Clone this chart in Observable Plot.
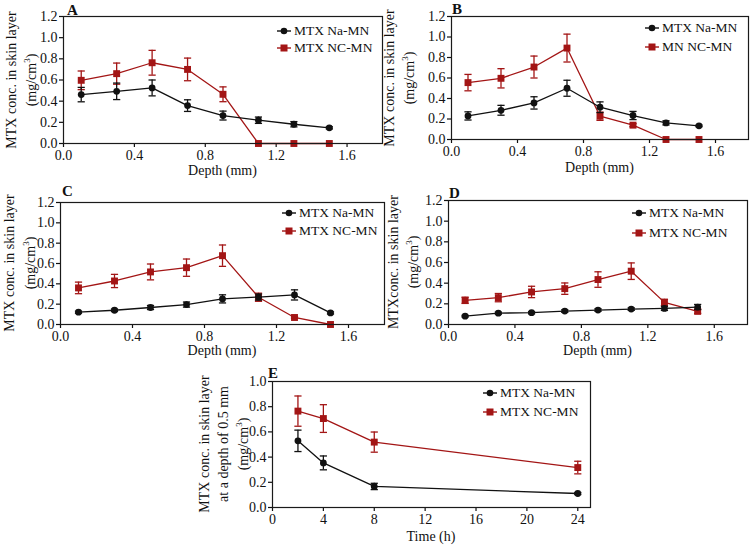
<!DOCTYPE html>
<html><head><meta charset="utf-8">
<script src="https://cdn.jsdelivr.net/npm/d3@7"></script>
<script src="https://cdn.jsdelivr.net/npm/@observablehq/plot@0.6"></script>
<style>
body{margin:0;background:#fff}
#fig{position:relative;width:750px;height:547px;font-family:"Liberation Serif","Times New Roman",serif;color:#111;overflow:hidden;background:#fff}
.ytitle{position:absolute;white-space:nowrap;line-height:1;font-size:14px;transform:translate(-50%,-50%) rotate(-90deg);text-align:center}
.xtitle{position:absolute;white-space:nowrap;line-height:1;font-size:14px;transform:translate(-50%,-50%)}
.letter{position:absolute;font-weight:bold;font-size:15px;line-height:1}
.leg{position:absolute;font-size:13.5px;line-height:1;display:flex;align-items:center}
.leg svg{margin-right:3px}
sup{font-size:9px;vertical-align:6px}
</style></head>
<body><div id="fig"></div>
<script>
// ---- data ----
const depth = [0.1, 0.3, 0.5, 0.7, 0.9, 1.1, 1.3, 1.5];
const timeH = [2, 4, 8, 24];
const seriesNames = ["MTX Na-MN", "MTX NC-MN"];
const legendNamesB = ["MTX Na-MN", "MN NC-MN"];
const depthTicks = [0, 0.4, 0.8, 1.2, 1.6];
const concTicks = [0, 0.2, 0.4, 0.6, 0.8, 1.0, 1.2];
const timeTicks = [0, 4, 8, 12, 16, 20, 24];
const concTicksE = [0, 0.2, 0.4, 0.6, 0.8, 1.0];

const aNa    = [0.462, 0.493, 0.525, 0.358, 0.264, 0.220, 0.182, 0.148];
const aNaErr = [0.068, 0.078, 0.075, 0.055, 0.042, 0.030, 0.025, 0.010];
const aNC    = [0.597, 0.660, 0.763, 0.700, 0.465, 0.0, 0.0, 0.0];
const aNCErr = [0.088, 0.100, 0.117, 0.107, 0.070, 0, 0, 0];

const bNa    = [0.230, 0.285, 0.357, 0.500, 0.315, 0.234, 0.162, 0.133];
const bNaErr = [0.040, 0.048, 0.060, 0.078, 0.052, 0.040, 0.020, 0.008];
const bNC    = [0.555, 0.597, 0.707, 0.892, 0.227, 0.140, 0.0, 0.0];
const bNCErr = [0.080, 0.094, 0.107, 0.136, 0.040, 0.015, 0, 0];

const cNa    = [0.121, 0.140, 0.167, 0.196, 0.252, 0.270, 0.291, 0.114];
const cNaErr = [0.010, 0.012, 0.020, 0.025, 0.040, 0.030, 0.050, 0.010];
const cNC    = [0.360, 0.428, 0.517, 0.559, 0.677, 0.268, 0.069, 0.0];
const cNCErr = [0.057, 0.065, 0.078, 0.085, 0.105, 0.040, 0.008, 0];

const dNa    = [0.081, 0.110, 0.114, 0.130, 0.140, 0.149, 0.156, 0.169];
const dNaErr = [0.008, 0.010, 0.010, 0.012, 0.012, 0.012, 0.020, 0.025];
const dNC    = [0.234, 0.260, 0.315, 0.347, 0.435, 0.516, 0.214, 0.127];
const dNCErr = [0.030, 0.040, 0.055, 0.055, 0.075, 0.080, 0.030, 0.020];

const eNa    = [0.529, 0.354, 0.167, 0.111];
const eNaErr = [0.085, 0.055, 0.025, 0.008];
const eNC    = [0.765, 0.706, 0.519, 0.317];
const eNCErr = [0.120, 0.110, 0.080, 0.050];

// ---- styles ----
const BLACK = "#111111", RED = "#a31515";
const fig = document.getElementById("fig");
const capSymbol = {draw(ctx, size) { const w = Math.sqrt(size / Math.PI); ctx.moveTo(-w, 0); ctx.lineTo(w, 0); }};

const panels = [
  {letter: "A", xs: depth, na: aNa, naE: aNaErr, nc: aNC, ncE: aNCErr, xDom: [0, 1.8], xT: depthTicks, xF: ".1f", yDom: [0, 1.2], yT: concTicks,
   L: 63, T: 16, W: 319, H: 127, ty: ["MTX conc. in skin layer", "(mg/cm<sup>3</sup>)"], tyX: [12, 31], xt: "Depth (mm)", xtY: 171,
   leg: seriesNames, legX: 277, legY: [31, 48], letX: 67, letY: 3},
  {letter: "B", xs: depth, na: bNa, naE: bNaErr, nc: bNC, ncE: bNCErr, xDom: [0, 1.8], xT: depthTicks, xF: ".1f", yDom: [0, 1.2], yT: concTicks,
   L: 451, T: 16, W: 297, H: 123, ty: ["MTX conc. in skin layer", "(mg/cm<sup>3</sup>)"], tyX: [390, 409], xt: "Depth (mm)", xtY: 168,
   leg: legendNamesB, legX: 645, legY: [28, 47], letX: 452, letY: 2},
  {letter: "C", xs: depth, na: cNa, naE: cNaErr, nc: cNC, ncE: cNCErr, xDom: [0, 1.8], xT: depthTicks, xF: ".1f", yDom: [0, 1.2], yT: concTicks,
   L: 60, T: 202, W: 324, H: 122, ty: ["MTX conc. in skin layer", "(mg/cm<sup>3</sup>)"], tyX: [10, 30], xt: "Depth (mm)", xtY: 351,
   leg: seriesNames, legX: 282, legY: [213, 231], letX: 62, letY: 184},
  {letter: "D", xs: depth, na: dNa, naE: dNaErr, nc: dNC, ncE: dNCErr, xDom: [0, 1.8], xT: depthTicks, xF: ".1f", yDom: [0, 1.2], yT: concTicks,
   L: 448, T: 200, W: 299, H: 124, ty: ["MTXconc. in skin layer", "(mg/cm<sup>3</sup>)"], tyX: [394, 413], xt: "Depth (mm)", xtY: 351,
   leg: seriesNames, legX: 632, legY: [213, 233], letX: 449, letY: 186},
  {letter: "E", xs: timeH, na: eNa, naE: eNaErr, nc: eNC, ncE: eNCErr, xDom: [0, 25], xT: timeTicks, xF: "d", yDom: [0, 1.0], yT: concTicksE,
   L: 272, T: 381, W: 318, H: 126, ty: ["MTX conc. in skin layer", "at a depth of 0.5 mm", "(mg/cm<sup>3</sup>)"], tyX: [205, 224, 243], xt: "Time (h)", xtY: 537,
   leg: seriesNames, legX: 483, legY: [393, 412], letX: 268, letY: 366}
];

const mL = 40, mR = 6, mT = 6, mB = 26;

for (const p of panels) {
  const rowsNa = p.xs.map((x, i) => ({x, y: p.na[i], e: p.naE[i]}));
  const rowsNC = p.xs.map((x, i) => ({x, y: p.nc[i], e: p.ncE[i]}));
  const seriesMarks = (rows, color, symbol, r) => {
    const withErr = rows.filter(d => d.e > 0);
    const caps = withErr.flatMap(d => [{x: d.x, y: d.y - d.e}, {x: d.x, y: d.y + d.e}]);
    return [
      Plot.line(rows, {x: "x", y: "y", stroke: color, strokeWidth: 1.3}),
      Plot.ruleX(withErr, {x: "x", y1: d => d.y - d.e, y2: d => d.y + d.e, stroke: color, strokeWidth: 1.3}),
      Plot.dot(caps, {x: "x", y: "y", symbol: capSymbol, r: 3.6, stroke: color, strokeWidth: 1.3, fill: "none"}),
      Plot.dot(rows, {x: "x", y: "y", symbol, r, fill: color, stroke: "none"})
    ];
  };
  const svg = Plot.plot({
    width: p.W + mL + mR, height: p.H + mT + mB,
    marginLeft: mL, marginRight: mR, marginTop: mT, marginBottom: mB,
    style: {fontFamily: '"Liberation Serif","Times New Roman",serif', fontSize: "14px", color: "#111", background: "transparent", overflow: "visible"},
    x: {domain: p.xDom},
    y: {domain: p.yDom},
    marks: [
      Plot.axisY({ticks: p.yT, tickFormat: d3.format(".1f"), tickSize: 4, tickPadding: 2, label: null, fontSize: 14, strokeWidth: 1.2}),
      Plot.axisX({ticks: p.xT, tickFormat: d3.format(p.xF), tickSize: 4, tickPadding: 3, label: null, fontSize: 14, strokeWidth: 1.2}),
      ...seriesMarks(rowsNC, RED, "square", 3.9),
      ...seriesMarks(rowsNa, BLACK, "circle", 3.4),
      Plot.frame({stroke: "#1a1a1a", strokeWidth: 1.2})
    ]
  });
  svg.style.position = "absolute";
  svg.style.left = (p.L - mL) + "px";
  svg.style.top = (p.T - mT) + "px";
  svg.style.maxWidth = "none";
  fig.appendChild(svg);

  const let_ = document.createElement("div");
  let_.className = "letter"; let_.textContent = p.letter;
  let_.style.left = p.letX + "px"; let_.style.top = p.letY + "px";
  fig.appendChild(let_);

  p.ty.forEach((t, i) => {
    const d = document.createElement("div");
    d.className = "ytitle"; d.innerHTML = t;
    d.style.left = p.tyX[i] + "px"; d.style.top = (p.T + p.H / 2) + "px";
    fig.appendChild(d);
  });
  const xt = document.createElement("div");
  xt.className = "xtitle"; xt.textContent = p.xt;
  xt.style.left = (p.L + p.W / 2) + "px"; xt.style.top = p.xtY + "px";
  fig.appendChild(xt);

  p.leg.forEach((name, i) => {
    const color = i === 0 ? BLACK : RED;
    const row = document.createElement("div");
    row.className = "leg";
    row.style.left = p.legX + "px"; row.style.top = (p.legY[i] - 8) + "px"; row.style.height = "16px";
    const marker = i === 0
      ? `<circle cx="7" cy="5" r="3.3" fill="${color}"/>`
      : `<rect x="3.5" y="1.5" width="7" height="7" fill="${color}"/>`;
    row.innerHTML = `<svg width="14" height="10" viewBox="0 0 14 10"><line x1="0" y1="5" x2="14" y2="5" stroke="${color}" stroke-width="1.4"/>${marker}</svg><span>${name}</span>`;
    fig.appendChild(row);
  });
}
</script>
</body></html>
